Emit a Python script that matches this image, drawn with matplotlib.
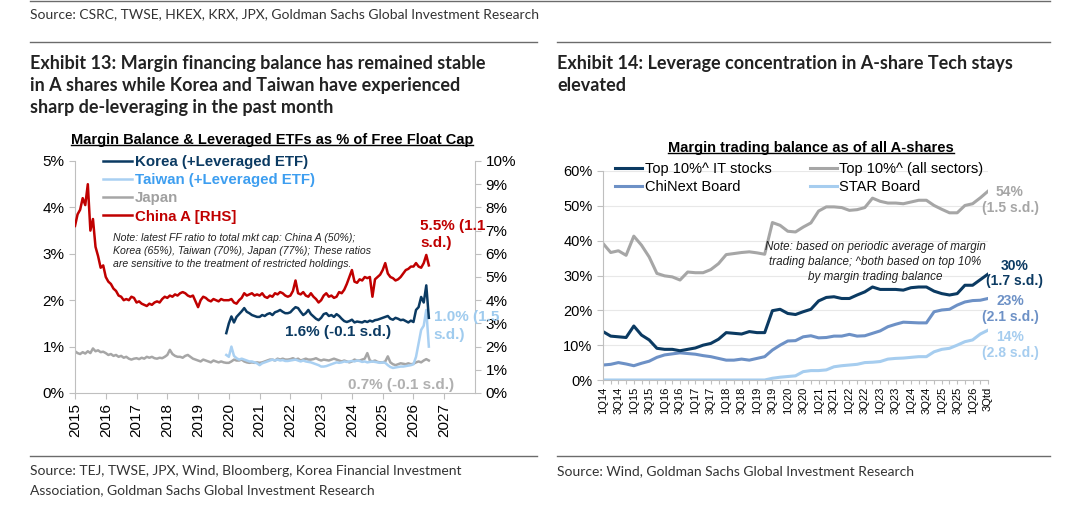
import numpy as np
import pandas as pd
import matplotlib
matplotlib.use("Agg")
import matplotlib.pyplot as plt
from matplotlib.lines import Line2D

plt.rcParams['font.family'] = ['Liberation Sans', 'DejaVu Sans']
PAGE_FONT = ['Lato', 'DejaVu Sans']

W, H = 1080, 530

# ---------------- Exhibit 13 data (monthly, % of free float cap) ----------------
# China A [RHS], from Jan 2015
china_a = [
    7.2, 7.7, 7.9, 8.4, 8.1, 9.0, 7.0, 7.5, 6.3, 5.9, 5.4, 5.5,
    5.0, 4.8, 4.7, 4.5, 4.4, 4.2, 4.15, 4.0, 4.05, 4.0, 4.15, 4.1,
    3.9, 3.95, 3.85, 3.8, 3.75, 3.85, 3.8, 3.9, 3.95, 3.9, 4.05, 4.15,
    4.1, 4.2, 4.15, 4.25, 4.2, 4.3, 4.35, 4.3, 4.2, 4.15, 4.2, 3.95,
    3.7, 4.0, 4.15, 4.1, 4.0, 3.95, 4.05, 4.0, 3.95, 4.05, 4.0, 4.0,
    4.0, 4.05, 3.9, 3.85, 4.0, 4.1, 4.3, 4.2, 4.25, 4.3, 4.2, 4.25,
    4.2, 4.3, 4.15, 4.1, 4.2, 4.15, 4.3, 4.25, 4.35, 4.3, 4.2, 4.15,
    4.2, 4.4, 4.85, 4.3, 4.25, 4.35, 4.2, 4.15, 4.3, 4.15, 4.05, 3.9,
    4.0, 4.2, 4.3, 4.15, 4.2, 4.1, 4.15, 4.35, 4.3, 4.45, 4.7, 5.0,
    5.3, 4.8, 4.75, 4.9, 4.85, 5.0, 4.95, 5.0, 4.15, 4.9, 5.0, 5.1,
    5.3, 5.6, 5.15, 5.0, 4.95, 4.85, 4.9, 5.0, 5.15, 5.3, 5.35, 5.45,
    5.45, 5.6, 5.45, 5.4, 5.6, 5.95, 5.5,
]
# Japan, from Jan 2015
japan = [
    0.9, 0.86, 0.84, 0.88, 0.85, 0.9, 0.86, 0.96, 0.9, 0.92, 0.88, 0.89,
    0.86, 0.82, 0.84, 0.8, 0.82, 0.78, 0.8, 0.76, 0.78, 0.74, 0.72, 0.74,
    0.75, 0.73, 0.76, 0.74, 0.78, 0.76, 0.78, 0.75, 0.74, 0.76, 0.75, 0.78,
    0.82, 0.93, 0.84, 0.8, 0.78, 0.78, 0.76, 0.8, 0.82, 0.78, 0.74, 0.72,
    0.7, 0.68, 0.72, 0.7, 0.68, 0.66, 0.7, 0.68, 0.66, 0.68, 0.66, 0.65,
    0.65, 0.68, 0.72, 0.7, 0.7, 0.72, 0.68, 0.66, 0.65, 0.66, 0.65, 0.66,
    0.65, 0.66, 0.68, 0.7, 0.72, 0.72, 0.7, 0.74, 0.72, 0.74, 0.72, 0.72,
    0.73, 0.75, 0.72, 0.74, 0.7, 0.72, 0.74, 0.72, 0.72, 0.73, 0.75, 0.72,
    0.7, 0.72, 0.71, 0.7, 0.72, 0.74, 0.72, 0.7, 0.68, 0.7, 0.68, 0.66,
    0.68, 0.72, 0.7, 0.7, 0.72, 0.74, 0.86, 0.7, 0.68, 0.7, 0.67, 0.66,
    0.66, 0.68, 0.79, 0.66, 0.62, 0.6, 0.62, 0.64, 0.63, 0.62, 0.64, 0.62,
    0.63, 0.66, 0.68, 0.66, 0.7, 0.73, 0.7,
]
# Korea (+Leveraged ETF), from Dec 2019
korea = [
    1.29,
    1.5, 1.65, 1.52, 1.64, 1.7, 1.76, 1.83, 1.75, 1.72, 1.68, 1.66, 1.64,
    1.64, 1.68, 1.66, 1.7, 1.72, 1.68, 1.74, 1.76, 1.79, 1.75, 1.72, 1.72,
    1.74, 1.8, 1.85, 1.83, 1.75, 1.68, 1.72, 1.79, 1.7, 1.65, 1.6, 1.57,
    1.62, 1.7, 1.72, 1.66, 1.68, 1.64, 1.7, 1.66, 1.6, 1.55, 1.53, 1.55,
    1.58, 1.52, 1.54, 1.53, 1.52, 1.55, 1.53, 1.56, 1.54, 1.57, 1.58, 1.6,
    1.62, 1.64, 1.66, 1.6, 1.58, 1.62, 1.6, 1.57, 1.58, 1.55, 1.52, 1.56,
    1.53, 1.79, 1.85, 2.07, 1.95, 2.32, 1.62,
]
# Taiwan (+Leveraged ETF), from Dec 2019
taiwan = [
    0.82,
    0.78, 1.0, 0.8, 0.75, 0.72, 0.74, 0.72, 0.7, 0.68, 0.68, 0.66, 0.64,
    0.6, 0.64, 0.66, 0.68, 0.7, 0.72, 0.7, 0.72, 0.7, 0.71, 0.69, 0.69,
    0.7, 0.71, 0.72, 0.7, 0.68, 0.7, 0.68, 0.67, 0.66, 0.64, 0.62, 0.6,
    0.57, 0.57, 0.58, 0.6, 0.62, 0.64, 0.66, 0.65, 0.66, 0.68, 0.67, 0.68,
    0.69, 0.68, 0.7, 0.69, 0.67, 0.68, 0.66, 0.67, 0.68, 0.67, 0.66, 0.65,
    0.66, 0.65, 0.6, 0.56, 0.54, 0.55, 0.56, 0.57, 0.57, 0.58, 0.59, 0.6,
    0.62, 0.78, 1.07, 1.36, 1.45, 1.79, 1.0,
]
years13 = list(range(2015, 2028))

# ---------------- Exhibit 14 data (quarterly, % of all A-share margin balance) ----------------
quarters = [f"{q}Q{y}" for y in range(14, 27) for q in range(1, 5)][:51]
quarters[-1] = "3Qtd"
top_it = [13.9, 12.6, 12.4, 12.2, 15.5, 12.9, 11.5, 9.1, 8.8, 8.8, 8.4, 8.8,
          9.2, 10.0, 10.5, 11.7, 13.6, 13.4, 13.2, 13.9, 13.6, 13.6, 19.9, 20.3,
          19.1, 18.8, 19.6, 20.3, 22.7, 23.7, 23.9, 23.4, 23.4, 24.4, 25.3, 26.7,
          26.0, 26.0, 26.0, 25.8, 26.5, 26.7, 26.7, 25.5, 24.8, 24.4, 24.8, 27.2,
          27.2, 28.8, 30.4]
top_all = [39.2, 36.6, 37.1, 35.8, 41.3, 38.7, 35.3, 30.6, 29.9, 29.6, 28.7, 31.0,
           30.8, 30.8, 31.7, 33.4, 36.0, 36.3, 36.6, 36.8, 36.5, 36.1, 45.2, 44.4,
           42.7, 42.5, 43.9, 45.1, 48.5, 49.7, 49.7, 49.5, 48.7, 48.9, 49.5, 52.2,
           51.3, 50.8, 50.8, 50.6, 51.1, 51.6, 51.6, 50.1, 49.0, 48.0, 48.0, 50.1,
           50.6, 52.3, 54.2]
chinext = [4.3, 4.5, 5.0, 4.6, 4.1, 4.8, 5.4, 6.5, 7.2, 7.5, 7.8, 7.6,
           7.4, 7.0, 6.7, 6.2, 5.7, 5.7, 6.0, 5.7, 6.2, 6.7, 8.6, 10.0,
           11.2, 11.3, 12.4, 12.7, 12.1, 12.2, 12.6, 12.6, 13.1, 12.6, 12.7, 13.4,
           14.1, 15.3, 16.0, 16.6, 16.5, 16.4, 16.4, 19.6, 20.1, 20.3, 21.5, 22.4,
           22.8, 22.9, 23.4]
star = [0, 0, 0, 0, 0, 0, 0, 0, 0, 0, 0, 0,
        0, 0, 0, 0, 0, 0, 0, 0, 0, 0, 0.5, 0.8,
        1.0, 1.2, 2.4, 2.7, 2.7, 2.9, 3.8, 4.1, 4.3, 4.5, 5.0, 5.1,
        5.3, 6.0, 6.2, 6.3, 6.5, 6.7, 6.7, 8.1, 8.8, 9.1, 10.0, 11.0,
        11.5, 13.2, 14.3]

NAVY = '#0b3a62'
GRAY = '#a6a6a6'
RED = '#c00000'
LBLUE = '#a9d0f2'
STEEL = '#6d91c6'
SPINE = '#bfbfbf'


def to_years(start, n):
    d = pd.date_range(start, periods=n, freq="MS")
    return np.array(d.year + (d.month - 1) / 12)


def fx(x):
    return x / W


def fy(y):
    return 1 - y / H


fig = plt.figure(figsize=(W / 100, H / 100), dpi=100)
fig.patch.set_facecolor('white')


def hline(x0, x1, y, color='#6b6b6b', lw=1.0):
    fig.add_artist(Line2D([fx(x0), fx(x1)], [fy(y), fy(y)], color=color, lw=lw,
                          transform=fig.transFigure))


def fit_width(t, target):
    # squeeze a page text to the width it has in the reference
    bb = t.get_window_extent(fig.canvas.get_renderer())
    if bb.width > target:
        t.set_fontsize(t.get_fontsize() * target / bb.width)


# page furniture
hline(30, 1050, 1)
hline(30, 537, 42)
hline(557, 1050, 42)
hline(30, 537, 456)
hline(557, 1050, 456)
page_texts = []
t = fig.text(fx(30), fy(14), "Source: CSRC, TWSE, HKEX, KRX, JPX, Goldman Sachs Global Investment Research",
             family=PAGE_FONT, fontsize=10, color='#333333', va='center')
page_texts.append((t, 508))
for i, (line, wd) in enumerate([("Exhibit 13: Margin financing balance has remained stable", 506),
                                ("in A shares while Korea and Taiwan have experienced", 455),
                                ("sharp de-leveraging in the past month", 333)]):
    t = fig.text(fx(30), fy(63 + 22.5 * i), line, family=PAGE_FONT, fontsize=13,
                 weight='bold', color='#222222', va='center')
    page_texts.append((t, wd))
for i, (line, wd) in enumerate([("Exhibit 14: Leverage concentration in A-share Tech stays", 472),
                                ("elevated", 75)]):
    t = fig.text(fx(557), fy(63 + 22.5 * i), line, family=PAGE_FONT, fontsize=13,
                 weight='bold', color='#222222', va='center')
    page_texts.append((t, wd))
for i, (line, wd) in enumerate([("Source: TEJ, TWSE, JPX, Wind, Bloomberg, Korea Financial Investment", 434),
                                ("Association, Goldman Sachs Global Investment Research", 355)]):
    t = fig.text(fx(30), fy(471 + 19 * i), line, family=PAGE_FONT, fontsize=10,
                 color='#333333', va='center')
    page_texts.append((t, wd))
t = fig.text(fx(557), fy(471), "Source: Wind, Goldman Sachs Global Investment Research",
             family=PAGE_FONT, fontsize=10, color='#333333', va='center')
page_texts.append((t, 360))

# ---------------- Exhibit 13 chart ----------------
ax1 = fig.add_axes([fx(75), fy(393), 400 / W, 232 / H])
ax1r = ax1.twinx()
x_long = to_years("2015-01-01", len(china_a))
x_short = to_years("2019-12-01", len(korea))

l_jp, = ax1.plot(x_long, japan, color=GRAY, lw=1.8, label='Japan')
l_tw, = ax1.plot(x_short, taiwan, color=LBLUE, lw=1.8, label='Taiwan (+Leveraged ETF)')
l_kr, = ax1.plot(x_short, korea, color=NAVY, lw=1.8, label='Korea (+Leveraged ETF)')
l_cn, = ax1r.plot(x_long, china_a, color=RED, lw=1.8, label='China A [RHS]')

ax1.set_xlim(2015, 2028)
ax1.set_ylim(0, 5)
ax1r.set_ylim(0, 10)
ax1.set_xticks(years13)
ax1.set_xticklabels([str(y) for y in years13], rotation=90)
ax1.set_yticks(range(6))
ax1.set_yticklabels([f"{v}%" for v in range(6)])
ax1r.set_yticks(range(11))
ax1r.set_yticklabels([f"{v}%" for v in range(11)])
for a in (ax1, ax1r):
    a.spines['top'].set_visible(False)
    for s in ('left', 'right', 'bottom'):
        a.spines[s].set_color(SPINE)
    a.tick_params(colors=SPINE, labelcolor='black', labelsize=11, length=4, direction='out')
ax1.spines['right'].set_visible(False)
ax1r.spines['left'].set_visible(False)
ax1r.spines['bottom'].set_visible(False)

leg1 = ax1r.legend(handles=[l_kr, l_tw, l_jp, l_cn], loc='upper left',
                   bbox_to_anchor=(fx(103), fy(155)), bbox_transform=fig.transFigure,
                   frameon=False, borderpad=0, borderaxespad=0, handlelength=1.9,
                   handletextpad=0.25, labelspacing=0.28,
                   prop={'weight': 'bold', 'size': 10.8})
for txt, c in zip(leg1.get_texts(), [NAVY, '#3d9ef0', '#a0a0a0', RED]):
    txt.set_color(c)

for i, line in enumerate(["Note: latest FF ratio to total mkt cap: China A (50%);",
                          "Korea (65%), Taiwan (70%), Japan (77%); These ratios",
                          "are sensitive to the treatment of restricted holdings."]):
    fig.text(fx(113), fy(238 + 13 * i), line, fontsize=7.6, style='italic',
             color='#222222', va='center')

lbl = dict(fontsize=11, weight='bold', va='center')
fig.text(fx(420), fy(226), "5.5% (1.1", color=RED, **lbl)
fig.text(fx(420), fy(243), "s.d.)", color=RED, **lbl)
fig.text(fx(285), fy(332), "1.6% (-0.1 s.d.)", color=NAVY, **lbl)
fig.text(fx(434), fy(317), "1.0% (1.5", color='#9fcbee', **lbl)
fig.text(fx(433), fy(335), "s.d.)", color='#9fcbee', **lbl)
fig.text(fx(348), fy(385), "0.7% (-0.1 s.d.)", color='#b0b0b0', **lbl)

t13 = fig.text(fx(272), fy(140), "Margin Balance & Leveraged ETFs as % of Free Float Cap",
               fontsize=10.5, weight='bold', ha='center', va='center')

# ---------------- Exhibit 14 chart ----------------
ax2 = fig.add_axes([fx(603), fy(380), 385 / W, 209 / H])
xq = np.arange(len(quarters))
l_all, = ax2.plot(xq, top_all, color=GRAY, lw=2.2, label='Top 10%^ (all sectors)')
l_star, = ax2.plot(xq, star, color='#a6cdef', lw=2.2, label='STAR Board')
l_cx, = ax2.plot(xq, chinext, color=STEEL, lw=2.2, label='ChiNext Board')
l_it, = ax2.plot(xq, top_it, color=NAVY, lw=2.2, label='Top 10%^ IT stocks')

ax2.set_xlim(0, len(quarters) - 1)
ax2.set_ylim(0, 60)
ax2.set_yticks(range(0, 61, 10))
ax2.set_yticklabels([f"{v}%" for v in range(0, 61, 10)])
ax2.set_xticks(xq)
ax2.set_xticklabels([q if i % 2 == 0 else '' for i, q in enumerate(quarters)], rotation=90)
ax2.grid(axis='y', color='#e8e8e8', lw=0.8)
ax2.set_axisbelow(True)
for s in ('top', 'right'):
    ax2.spines[s].set_visible(False)
for s in ('left', 'bottom'):
    ax2.spines[s].set_color(SPINE)
ax2.tick_params(axis='y', colors=SPINE, labelcolor='black', labelsize=10.5, length=4)
ax2.tick_params(axis='x', colors=SPINE, labelcolor='black', labelsize=8, length=3, pad=2)

ax2.legend(handles=[l_it, l_cx, l_all, l_star], ncol=2, loc='upper left',
           bbox_to_anchor=(fx(615), fy(162)), bbox_transform=fig.transFigure,
           frameon=False, borderpad=0, borderaxespad=0, handlelength=1.85,
           handletextpad=0.2, labelspacing=0.3, columnspacing=2.6,
           prop={'size': 10.5})

for i, line in enumerate(["Note: based on periodic average of margin",
                          "trading balance; ^both based on top 10%",
                          "by margin trading balance"]):
    fig.text(fx(875), fy(247 + 15 * i), line, fontsize=8.4, style='italic',
             color='#222222', ha='center', va='center')

lbl2 = dict(fontsize=10, weight='bold', ha='center', va='center')
for (a, b), yy, c, xc in [(("54%", "(1.5 s.d.)"), 192, GRAY, 1010),
                          (("30%", "(1.7 s.d.)"), 266, NAVY, 1015),
                          (("23%", "(2.1 s.d.)"), 301, STEEL, 1010),
                          (("14%", "(2.8 s.d.)"), 337, '#a6cdef', 1010)]:
    fig.text(fx(xc), fy(yy), a, color=c, **lbl2)
    fig.text(fx(xc), fy(yy + 15.5), b, color=c, **lbl2)

t14 = fig.text(fx(811), fy(148), "Margin trading balance as of all A-shares",
               fontsize=10.5, weight='bold', ha='center', va='center')

# fit page texts, underline chart titles
fig.canvas.draw()
for t, wd in page_texts:
    fit_width(t, wd)
renderer = fig.canvas.get_renderer()
for t in (t13, t14):
    bb = t.get_window_extent(renderer)
    fig.add_artist(Line2D([bb.x0 / W, bb.x1 / W], [(bb.y0 + 1.5) / H] * 2,
                          color='black', lw=1.0, transform=fig.transFigure))

fig.savefig("out.png", dpi=100)
